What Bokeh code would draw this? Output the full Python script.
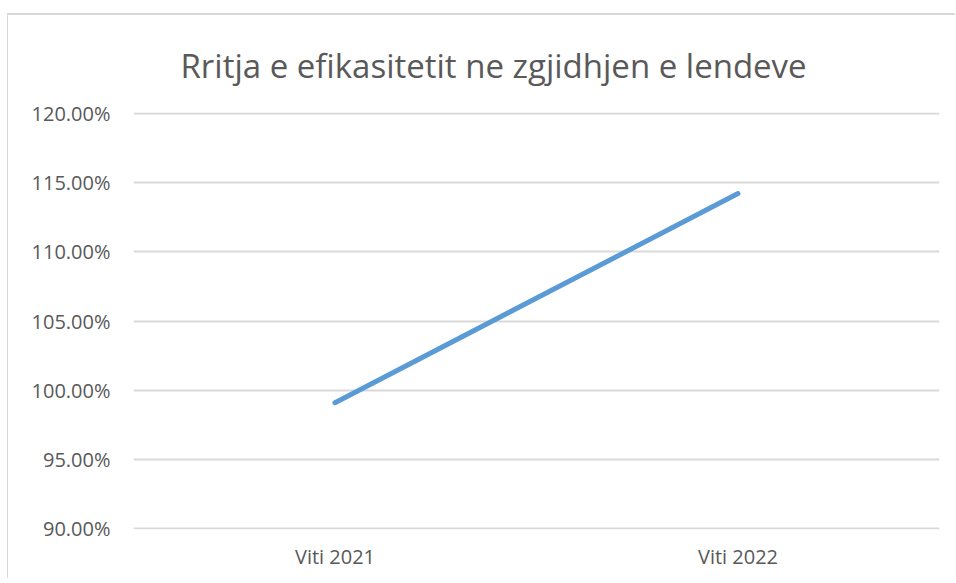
from bokeh.plotting import figure
from bokeh.models import FixedTicker, NumeralTickFormatter, Title
from bokeh.embed import file_html
from bokeh.resources import INLINE

categories = ["Viti 2021", "Viti 2022"]
values = [0.991, 1.142]
y_ticks = [0.90, 0.95, 1.00, 1.05, 1.10, 1.15, 1.20]
title_text = "Rritja e efikasitetit ne zgjidhjen e lendeve"

FONT = "Open Sans"
TXT = "#595959"

p = figure(x_range=categories, y_range=(0.8995, 1.2005), width=948, height=565,
           output_backend="svg", toolbar_location=None,
           min_border_left=125, min_border_right=17, min_border_top=97, min_border_bottom=51,
           styles={"margin-left": "7px", "margin-top": "13px",
                   "border-left": "1px solid #d9d9d9", "border-top": "2px solid #d9d9d9"})
p.outline_line_color = None

t = Title(text=title_text, align="left", offset=47, standoff=50,
          text_font=FONT, text_font_size="33px", text_font_style="normal", text_color=TXT)
p.add_layout(t, "above")

p.line(x=categories, y=values, line_color="#5B9BD5", line_width=5, line_cap="round")

p.yaxis.ticker = FixedTicker(ticks=y_ticks)
p.yaxis.formatter = NumeralTickFormatter(format="0.00%")
p.yaxis.axis_line_color = None
p.yaxis.major_tick_line_color = None
p.yaxis.minor_tick_line_color = None
p.yaxis.major_label_standoff = 17
p.yaxis.major_label_text_font = FONT
p.yaxis.major_label_text_font_size = "20px"
p.yaxis.major_label_text_color = TXT

p.xaxis.axis_line_color = None
p.xaxis.major_tick_line_color = None
p.xaxis.major_label_standoff = 7
p.xaxis.major_label_text_font = FONT
p.xaxis.major_label_text_font_size = "20px"
p.xaxis.major_label_text_color = TXT

p.xgrid.grid_line_color = None
p.ygrid.grid_line_color = "#D9D9D9"
p.ygrid.grid_line_width = 2

open("out.html", "w").write(file_html(p, INLINE))
